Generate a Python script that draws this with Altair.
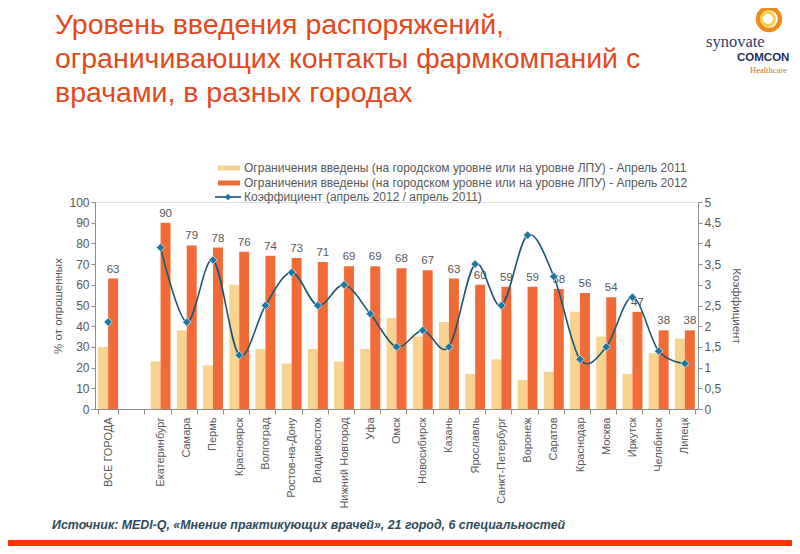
import altair as alt
import pandas as pd

# ---------------- data ----------------
cities = ["ВСЕ ГОРОДА", "Екатеринбург", "Самара", "Пермь", "Красноярск", "Волгоград",
          "Ростов-на-Дону", "Владивосток", "Нижний Новгород", "Уфа", "Омск", "Новосибирск",
          "Казань", "Ярославль", "Санкт-Петербург", "Воронеж", "Саратов", "Краснодар",
          "Москва", "Иркутск", "Челябинск", "Липецк"]
v2011 = [30, 23, 38, 21, 60, 29, 22, 29, 23, 29, 44, 35, 42, 17, 24, 14, 18, 47, 35, 17, 27, 34]
v2012 = [63, 90, 79, 78, 76, 74, 73, 71, 69, 69, 68, 67, 63, 60, 59, 59, 58, 56, 54, 47, 38, 38]
coef = [2.1, 3.9, 2.1, 3.6, 1.3, 2.5, 3.3, 2.5, 3.0, 2.3, 1.5, 1.9, 1.5, 3.5, 2.5, 4.2, 3.2,
        1.2, 1.5, 2.7, 1.4, 1.1]
left_ticks = [0, 10, 20, 30, 40, 50, 60, 70, 80, 90, 100]
right_ticks = [0, 0.5, 1, 1.5, 2, 2.5, 3, 3.5, 4, 4.5, 5]

legend_labels = [
    "Ограничения введены (на городском уровне или на уровне ЛПУ) - Апрель 2011",
    "Ограничения введены (на городском уровне или на уровне ЛПУ) - Апрель 2012",
    "Коэффициент (апрель 2012 / апрель 2011)",
]
title_lines = ["Уровень введения распоряжений,",
               "ограничивающих контакты фармкомпаний с",
               "врачами, в разных городах"]
source_text = "Источник:  MEDI-Q, «Мнение практикующих врачей», 21 город, 6 специальностей"

# ---------------- styling ----------------
FONT = "Liberation Sans"
LIGHT = "#F8D38F"
DARK = "#F26B36"
LINE = "#1E5672"
DIAMOND = "#1B76A0"
GRAY = "#595959"
AXIS = "#8C8C8C"
ORANGE_TITLE = "#E2491B"

domain = [cities[0], " "] + cities[1:]

bars_df = pd.DataFrame({
    "city": cities * 2,
    "year": ["2011"] * len(cities) + ["2012"] * len(cities),
    "value": v2011 + v2012,
})
lab_df = pd.DataFrame({"city": cities, "year": ["2012"] * len(cities), "value": v2012})
coef_df = pd.DataFrame({"city": cities, "coef": coef})
line_df = coef_df.iloc[1:]

xscale = alt.Scale(domain=domain, paddingInner=0.24, paddingOuter=0.12)
xenc = alt.X("city:N", scale=xscale, sort=domain,
             axis=alt.Axis(title=None, labelAngle=-90, tickBand="extent", labelFont=FONT,
                           labelFontSize=11, labelColor=GRAY, domainColor=AXIS, tickColor=AXIS,
                           tickSize=5, labelPadding=3))
xoff = alt.XOffset("year:N", scale=alt.Scale(domain=["2011", "2012"]))

yleft = alt.Y("value:Q", scale=alt.Scale(domain=[0, 100]),
              axis=alt.Axis(values=left_ticks, title="% от опрошенных", grid=False,
                            labelFont=FONT, labelFontSize=12, labelColor=GRAY,
                            titleFont=FONT, titleFontSize=11.5, titleFontWeight="normal",
                            titleColor=GRAY, titlePadding=5, domainColor=AXIS,
                            tickColor=AXIS, tickSize=4))

bars = alt.Chart(bars_df).mark_bar().encode(
    x=xenc, xOffset=xoff, y=yleft,
    color=alt.Color("year:N", scale=alt.Scale(domain=["2011", "2012"], range=[LIGHT, DARK]),
                    legend=None),
)
labels = alt.Chart(lab_df).mark_text(dy=-9, font=FONT, fontSize=11.5, color=GRAY).encode(
    x=xenc, xOffset=xoff, y=yleft, text="value:Q")
left_layer = alt.layer(bars, labels)

yright = alt.Y("coef:Q", scale=alt.Scale(domain=[0, 5]),
               axis=alt.Axis(orient="right", values=right_ticks, grid=False,
                             labelExpr="replace(toString(datum.value), '.', ',')",
                             title="Коэффициент", labelFont=FONT, labelFontSize=12,
                             labelColor=GRAY, titleFont=FONT, titleFontSize=11.5,
                             titleFontWeight="normal", titleColor=GRAY, titlePadding=10,
                             domainColor=AXIS, tickColor=AXIS, tickSize=4))
line = alt.Chart(line_df).mark_line(interpolate="cardinal", color=LINE, strokeWidth=1.6).encode(
    x=xenc, y=yright)
pts = alt.Chart(coef_df).mark_point(shape="diamond", filled=True, size=70, color=DIAMOND,
                                    stroke="#DCEAF2", strokeWidth=0.8, opacity=1).encode(
    x=xenc, y=yright)
right_layer = alt.layer(line, pts)

one = pd.DataFrame({"a": [0]})


def txt(text, x, y, size, color, weight="normal", style="normal", font=FONT, align="left",
        baseline="alphabetic"):
    return alt.Chart(one).mark_text(text=text, fontSize=size, color=color, fontWeight=weight,
                                    fontStyle=style, font=font, align=align,
                                    baseline=baseline).encode(x=alt.value(x), y=alt.value(y))


def rect(x, x2, y, y2, color):
    return alt.Chart(one).mark_rect(color=color).encode(
        x=alt.value(x), x2=alt.value(x2), y=alt.value(y), y2=alt.value(y2))


deco = []
# title
for i, t in enumerate(title_lines):
    deco.append(txt(t, -40, -168 + i * 34, 28.5, ORANGE_TITLE))
# legend
deco.append(rect(123, 145, -36.5, -31.5, LIGHT))
deco.append(rect(123, 145, -21.5, -16.5, DARK))
deco.append(alt.Chart(one).mark_rule(color=LINE, strokeWidth=1.6).encode(
    x=alt.value(120), x2=alt.value(146), y=alt.value(-5)))
deco.append(alt.Chart(one).mark_point(shape="diamond", filled=True, size=45, color=DIAMOND,
                                      opacity=1).encode(x=alt.value(133), y=alt.value(-5)))
for i, t in enumerate(legend_labels):
    deco.append(txt(t, 149, -34 + i * 14.5, 12, GRAY, baseline="middle"))
# logo
deco.append(alt.Chart(one).mark_point(shape="circle", filled=False, size=480, stroke="#F08A1C",
                                      strokeWidth=4.5, opacity=1).encode(
    x=alt.value(674), y=alt.value(-183)))
deco.append(alt.Chart(one).mark_point(shape="circle", filled=False, size=170, stroke="#FAD24A",
                                      strokeWidth=3, opacity=1).encode(
    x=alt.value(673), y=alt.value(-183)))
deco.append(txt("synovate", 611, -155, 16.5, "#2C3E6E", font="Liberation Serif"))
deco.append(txt("COMCON", 642, -141, 11.5, "#1F3160", weight="bold"))
deco.append(txt("Healthcare", 655, -129, 8.5, "#C0703F", font="Liberation Serif"))
# footer
deco.append(txt(source_text, -43, 323, 12.4, "#2F4B5A", weight="bold", style="italic",
                baseline="middle"))
deco.append(rect(-87, 697, 338, 350, "#FF3300"))

chart = alt.layer(left_layer, right_layer, *deco).resolve_scale(y="independent").properties(
    width=603, height=207,
    autosize=alt.AutoSizeParams(type="none"),
    padding={"left": 87, "top": 194, "right": 94, "bottom": 137},
).configure_view(stroke=None).configure(background="white")

chart.save("out.html", embed_options={"renderer": "svg", "actions": False})
